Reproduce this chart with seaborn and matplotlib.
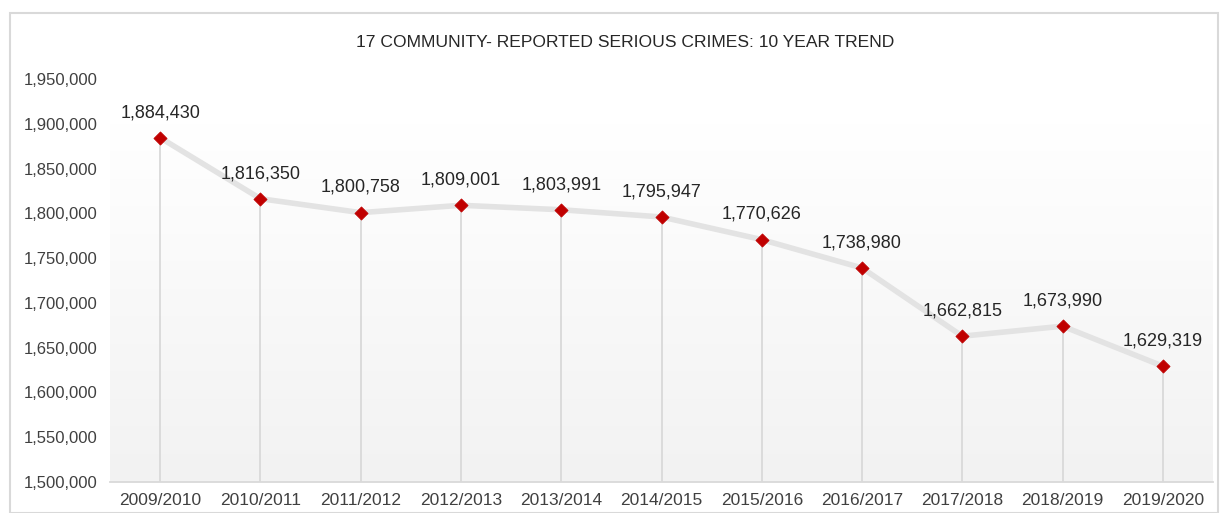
import matplotlib
matplotlib.use("Agg")
import matplotlib.pyplot as plt
import seaborn as sns
import numpy as np
import pandas as pd
from matplotlib.patches import Rectangle

years = ["2009/2010", "2010/2011", "2011/2012", "2012/2013", "2013/2014", "2014/2015",
         "2015/2016", "2016/2017", "2017/2018", "2018/2019", "2019/2020"]
crimes = [1884430, 1816350, 1800758, 1809001, 1803991, 1795947,
          1770626, 1738980, 1662815, 1673990, 1629319]
yticks = [1500000, 1550000, 1600000, 1650000, 1700000, 1750000, 1800000, 1850000, 1900000, 1950000]

df = pd.DataFrame({"year": years, "crimes": crimes, "pos": np.arange(len(years))})

sns.set_theme(style="white")
plt.rcParams['font.family'] = ['Liberation Sans', 'DejaVu Sans']

fig = plt.figure(figsize=(12.25, 5.13), dpi=100)
fig.patches.append(Rectangle((10/1225, 0), 1208/1225, 1-13/513, transform=fig.transFigure,
                             fill=False, edgecolor="#d9d9d9", linewidth=1.5))
ax = fig.add_axes([110/1225, 1-482/513, 1103/1225, (482-79)/513])

ax.set_xlim(-0.5, len(years) - 0.5)
ax.set_ylim(1500000, 1950000)

# gradient background
grad = np.linspace(0, 1, 256).reshape(-1, 1)
ax.imshow(grad, extent=[-0.5, len(years) - 0.5, 1500000, 1900000], aspect="auto",
          cmap=matplotlib.colors.LinearSegmentedColormap.from_list("g", ["#f2f2f2", "#ffffff"]),
          origin="lower", zorder=0)

ax.vlines(df["pos"], 1500000, df["crimes"], color="#d9d9d9", linewidth=1.3, zorder=1)
sns.lineplot(data=df, x="pos", y="crimes", ax=ax, color="#e3e3e3", linewidth=4, zorder=2)
sns.scatterplot(data=df, x="pos", y="crimes", ax=ax, marker="D", s=45, color="#c00000",
                edgecolor="#c00000", zorder=3)

for p, v in zip(df["pos"], df["crimes"]):
    ax.annotate(f"{v:,}", (p, v), xytext=(0, 12), textcoords="offset points",
                ha="center", va="bottom", fontsize=13, color="#262626")

ax.set_xticks(df["pos"])
ax.set_xticklabels(years, fontsize=12.5, color="#404040")
ax.set_yticks(yticks)
ax.set_yticklabels([f"{t:,}" for t in yticks], fontsize=12, color="#404040")
ax.set_xlabel("")
ax.set_ylabel("")
for s in ["top", "right", "left"]:
    ax.spines[s].set_visible(False)
ax.spines["bottom"].set_color("#d9d9d9")
ax.spines["bottom"].set_linewidth(1.3)
ax.tick_params(axis="both", length=0)
ax.tick_params(axis="x", pad=8)
ax.tick_params(axis="y", pad=9)

fig.text(625/1225, 1-43/513, "17 COMMUNITY- REPORTED SERIOUS CRIMES: 10 YEAR TREND",
         ha="center", va="center", fontsize=12.6, color="#262626")

fig.savefig("out.png", dpi=100)
